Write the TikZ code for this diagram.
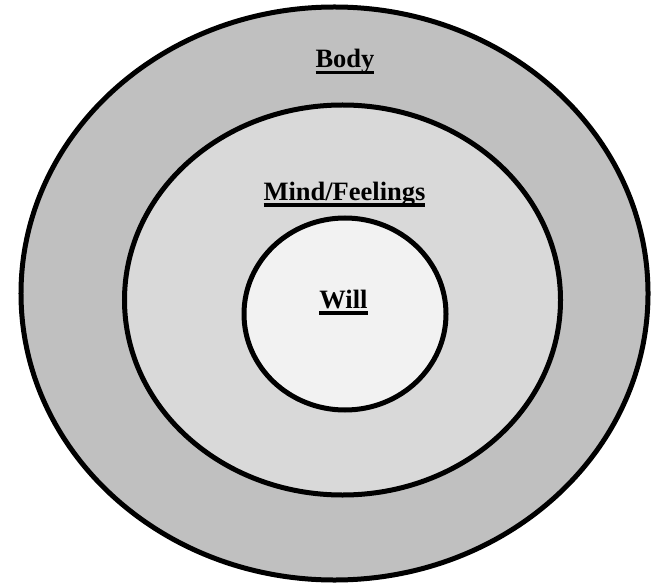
\documentclass[tikz,border=0pt]{standalone}
\usepackage{fontspec}
\setmainfont{Liberation Serif}
\usetikzlibrary{shapes.geometric}
% bold word with a heavy underline
\newcommand{\ulword}[1]{\setbox0=\hbox{#1}\rlap{\copy0}\rule[-6.5bp]{\wd0}{3.2bp}}
\tikzset{
  ring/.style={draw,ellipse,line width=5bp,inner sep=0pt},
  lbl/.style={font=\fontsize{26.5bp}{30bp}\selectfont\bfseries,anchor=base,inner sep=0pt}
}
\begin{document}
\begin{tikzpicture}[x=1bp,y=-1bp]
\useasboundingbox (0,0) rectangle (651,586);
\node[ring,fill={rgb,255:red,192;green,192;blue,192},minimum width=627bp,minimum height=573bp] (body) at (334.5,293.5) {};
\node[ring,fill={rgb,255:red,217;green,217;blue,217},minimum width=436bp,minimum height=390bp] (mind) at (342.5,300) {};
\node[ring,fill={rgb,255:red,242;green,242;blue,242},minimum width=202bp,minimum height=192bp] (will) at (345,314) {};
\node[lbl] (bodytext) at (345,68) {\ulword{Body}};
\node[lbl] (mindtext) at (344.5,200) {\ulword{Mind/Feelings}};
\node[lbl] (willtext) at (343.5,308) {\ulword{Will}};
\end{tikzpicture}
\end{document}
